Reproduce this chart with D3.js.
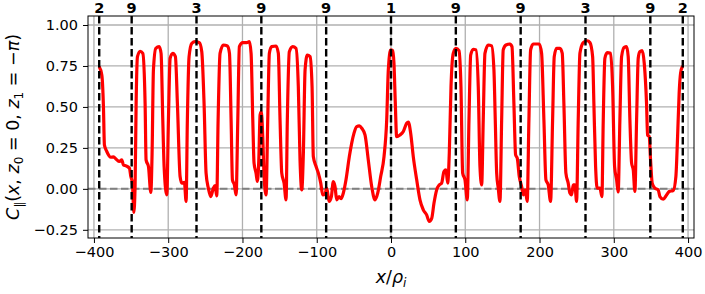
<!DOCTYPE html>
<html>
<head>
<meta charset="utf-8">
<script src="https://cdn.jsdelivr.net/npm/d3@7"></script>
<style>
	body { margin: 0; background: #fff; }
	svg { display: block; font-family: "DejaVu Sans", sans-serif; }
</style>
</head>
<body>
<svg id="chart" width="705" height="294"></svg>
<script>
/*=================
=== Data
=================*/

// x/rho_i and C_par pairs along the red curve
const curve = [
	[-393, 0.746], [-389.4, 0.695], [-387.2, 0.50], [-385.9, 0.268], [-382.7, 0.228],
	[-377.3, 0.193], [-373.7, 0.195], [-370, 0.181], [-365.7, 0.167], [-362.5, 0.177],
	[-360.3, 0.146], [-356.7, 0.14], [-352.2, 0.126], [-350.3, 0.075], [-348.2, 0.035],
	[-346.3, -0.144], [-344.6, 0.014], [-343.2, 0.52], [-341.4, 0.807], [-337.8, 0.84],
	[-334.2, 0.827], [-331.1, 0.52], [-329.8, 0.177], [-326.6, 0.136], [-323.4, -0.022],
	[-321.7, 0.218], [-319.9, 0.726], [-316.7, 0.858], [-312.2, 0.868], [-309.6, 0.827],
	[-307.3, 0.42], [-305.5, 0.136], [-301.9, -0.037], [-299.7, 0.42], [-297.4, 0.797],
	[-293.8, 0.827], [-290.3, 0.807], [-287.6, 0.52], [-284, 0.075], [-281.7, 0.035],
	[-278.2, 0.04], [-275.9, -0.077], [-274.2, 0.42], [-271.9, 0.807], [-268.2, 0.888],
	[-263.8, 0.898], [-258, 0.892], [-254.8, 0.837], [-251.7, 0.52], [-249, 0.096],
	[-245.9, 0.004], [-242.7, -0.047], [-239.2, 0.004], [-236.9, 0.02], [-234.6, -0.043],
	[-232.8, 0.42], [-230.2, 0.827], [-225.7, 0.878], [-220.3, 0.872], [-217.5, 0.827],
	[-215.3, 0.42], [-213.5, 0.055], [-210.9, 0.024], [-208.6, -0.037], [-206.3, 0.42],
	[-204.2, 0.868], [-199.6, 0.892], [-194.2, 0.892], [-190.7, 0.898], [-188.4, 0.827],
	[-186.1, 0.42], [-184.4, 0.157], [-181.7, 0.096], [-179.9, 0.045], [-178, 0.177],
	[-176.3, 0.451], [-174.6, 0.471], [-172.7, 0.319], [-170.9, 0.075], [-168.2, -0.037],
	[-166, 0.42], [-163.8, 0.827], [-160.6, 0.868], [-154.8, 0.872], [-151.7, 0.827],
	[-149.4, 0.42], [-147.1, 0.096], [-144, 0.035], [-141.3, -0.067], [-139.6, 0.42],
	[-136.9, 0.837], [-132.3, 0.868], [-127.9, 0.858], [-124.8, 0.624], [-122.5, 0.177],
	[-120.2, -0.006], [-118, 0.218], [-115.7, 0.726], [-112.7, 0.817], [-109, 0.807],
	[-106.3, 0.624], [-104.6, 0.197], [-100.9, 0.136], [-97.8, 0.096], [-94.6, 0.035],
	[-91.9, -0.037], [-88.8, -0.031], [-86.5, 0.004], [-83.4, -0.077], [-80.3, -0.047],
	[-77.7, 0.045], [-75.4, 0.014], [-73.1, -0.067], [-70, -0.047], [-67.3, -0.06],
	[-64.2, -0.026], [-60.6, 0.055], [-56.1, 0.197], [-52.9, 0.279], [-49.8, 0.34],
	[-46.2, 0.38], [-42.7, 0.384], [-39.4, 0.37], [-35, 0.329], [-30.6, 0.177],
	[-26, 0.014], [-21.5, -0.067], [-17.9, -0.026], [-13.9, 0.075], [-9.4, 0.197],
	[-5.8, 0.42], [-3.6, 0.726], [-0.4, 0.848], [2.3, 0.844], [4, 0.766],
	[5.8, 0.523], [7.6, 0.319], [12.1, 0.329], [16.6, 0.35], [21.1, 0.40],
	[23.3, 0.408], [26.5, 0.34], [30, 0.197], [34.6, 0.055], [39, -0.067],
	[43.5, -0.128], [48, -0.159], [51.5, -0.199], [54.8, -0.18], [57.9, -0.087],
	[61.5, -0.006], [65, 0.024], [68.2, 0.035], [71.3, 0.106], [74, 0.116],
	[76.3, 0.035], [78.5, 0.218], [80.8, 0.624], [83.8, 0.827], [87.5, 0.858],
	[91.5, 0.844], [94.2, 0.624], [96.5, 0.096], [99.6, 0.055], [102.7, -0.067],
	[105, 0.42], [107.3, 0.817], [110.8, 0.852], [114.4, 0.848], [117.5, 0.624],
	[119.8, 0.136], [122.1, 0.024], [124.2, 0.42], [126.5, 0.827], [131, 0.878],
	[135.5, 0.873], [138.6, 0.726], [140.4, 0.42], [142.3, 0.096], [144.4, 0.004],
	[146.7, -0.077], [149, 0.42], [151.1, 0.848], [154.8, 0.878], [160.2, 0.884],
	[162.9, 0.868], [165.5, 0.52], [167.8, 0.207], [170, 0.187], [172.7, 0.075],
	[175.9, 0.014], [178.1, -0.037], [180.8, -0.006], [183.4, -0.077], [185.7, 0.42],
	[188, 0.848], [191.5, 0.884], [196.1, 0.884], [199.6, 0.884], [202.8, 0.827],
	[205.9, 0.42], [208.6, 0.055], [211.7, 0.024], [214.9, -0.077], [217.6, 0.42],
	[219.8, 0.807], [223, 0.858], [227.5, 0.858], [230.6, 0.827], [232.8, 0.52],
	[235.5, 0.096], [238.6, 0.035], [240.9, -0.026], [243.2, -0.037], [245.4, 0.024],
	[247.6, 0.024], [249.9, -0.077], [252.1, 0.42], [254.4, 0.827], [258.9, 0.892],
	[264.2, 0.904], [267.8, 0.893], [271.5, 0.807], [273.2, 0.52], [275.5, 0.136],
	[277.6, 0.004], [281.3, 0.004], [284, -0.047], [285.8, 0.42], [288, 0.797],
	[291.2, 0.831], [295.7, 0.827], [298.4, 0.624], [301.1, 0.136], [303.8, 0.055],
	[305.9, -0.019], [308.2, 0.42], [310.5, 0.807], [314, 0.864], [317.2, 0.868],
	[319.4, 0.807], [321.7, 0.42], [324, 0.157], [326.2, 0.116], [328.4, -0.016],
	[330.7, 0.42], [332.9, 0.797], [335.1, 0.837], [338.3, 0.844], [341, 0.766],
	[344.1, 0.52], [345.5, 0.329], [347.7, 0.319], [349.5, 0.177], [351.7, 0.035],
	[355.3, 0.004], [359.8, -0.006], [362.1, -0.047], [366.6, -0.063], [371.1, -0.037],
	[374.6, -0.016], [380, -0.01], [383.6, 0.075], [385.9, 0.319], [388, 0.583],
	[389.9, 0.705], [392.6, 0.75]
];

// dashed marker lines and their labels on top
const markerX = [-392.9, -349.2, -261.9, -174.6, -87.3, 0, 87.3, 174.6, 261.9, 349.2, 392.9];
const markerLabels = ['2', '9', '3', '9', '9', '1', '9', '9', '3', '9', '2'];

const xTicks = [-400, -300, -200, -100, 0, 100, 200, 300, 400];
const yTicks = [-0.25, 0, 0.25, 0.5, 0.75, 1.0];

/*=================
=== Setting our svg
=================*/
const margin = { top: 16, bottom: 56, left: 88, right: 11 };
const svg = d3.select('#chart');
const width = +svg.attr('width') - margin.left - margin.right;
const height = +svg.attr('height') - margin.top - margin.bottom;

const xScale = d3.scaleLinear().domain([-408, 408]).range([0, width]);
const yScale = d3.scaleLinear().domain([-0.30, 1.055]).range([height, 0]);

const g = svg.append('g')
	.attr('transform', `translate(${margin.left}, ${margin.top})`);

const minus = s => s.replace('-', '\u2212');

// grid
g.append('g').selectAll('line')
	.data(xTicks)
	.enter().append('line')
	.attr('x1', d => xScale(d)).attr('x2', d => xScale(d))
	.attr('y1', 0).attr('y2', height)
	.attr('stroke', '#b0b0b0').attr('stroke-width', 1.3);

g.append('g').selectAll('line')
	.data(yTicks)
	.enter().append('line')
	.attr('x1', 0).attr('x2', width)
	.attr('y1', d => yScale(d)).attr('y2', d => yScale(d))
	.attr('stroke', '#b0b0b0').attr('stroke-width', 1.3);

// zero line
g.append('line')
	.attr('x1', 0).attr('x2', width)
	.attr('y1', yScale(0)).attr('y2', yScale(0))
	.attr('stroke', '#808080').attr('stroke-width', 2)
	.attr('stroke-dasharray', '7.5,3.5');

// the red curve
const line = d3.line()
	.x(d => xScale(d[0]))
	.y(d => yScale(d[1]))
	.curve(d3.curveMonotoneX);

g.append('path')
	.datum(curve)
	.attr('d', line)
	.attr('fill', 'none')
	.attr('stroke', '#ff0000')
	.attr('stroke-width', 3.2)
	.attr('stroke-linejoin', 'round');

// black dashed markers
g.append('g').selectAll('line')
	.data(markerX)
	.enter().append('line')
	.attr('x1', d => xScale(d)).attr('x2', d => xScale(d))
	.attr('y1', 0).attr('y2', height)
	.attr('stroke', '#000').attr('stroke-width', 2.4)
	.attr('stroke-dasharray', '7.5,3.5');

g.append('g').selectAll('text')
	.data(markerX)
	.enter().append('text')
	.attr('x', d => xScale(d))
	.attr('y', -3)
	.attr('text-anchor', 'middle')
	.attr('font-size', 14.5)
	.attr('font-weight', 'bold')
	.text((d, i) => markerLabels[i]);

// axes
const xAxis = g.append('g')
	.attr('transform', `translate(0, ${height})`)
	.call(d3.axisBottom(xScale).tickValues(xTicks).tickSize(5).tickPadding(4)
		.tickFormat(d => minus(String(d))));

const yAxis = g.append('g')
	.call(d3.axisLeft(yScale).tickValues(yTicks).tickSize(5).tickPadding(5)
		.tickFormat(d => minus(d3.format('.2f')(d))));

[xAxis, yAxis].forEach(a => {
	a.select('.domain').remove();
	a.selectAll('text').attr('font-size', 14.5).attr('font-family', 'DejaVu Sans').attr('fill', '#000');
	a.selectAll('line').attr('stroke', '#000').attr('stroke-width', 1);
});

// frame
g.append('rect')
	.attr('width', width).attr('height', height)
	.attr('fill', 'none').attr('stroke', '#000').attr('stroke-width', 1);

// axis labels
svg.append('text')
	.attr('x', margin.left + xScale(0))
	.attr('y', 283)
	.attr('text-anchor', 'middle')
	.attr('font-size', 17.5)
	.html('<tspan font-style="italic">x</tspan>/<tspan font-style="italic">ρ</tspan><tspan font-style="italic" font-size="12" dy="4">i</tspan>');

svg.append('text')
	.attr('transform', `translate(19, ${margin.top + height / 2}) rotate(-90)`)
	.attr('text-anchor', 'middle')
	.attr('font-size', 17.5)
	.html('<tspan font-style="italic">C</tspan><tspan font-size="12" dy="4">∥</tspan>' +
		'<tspan dy="-4">(</tspan><tspan font-style="italic">x</tspan>, <tspan font-style="italic">z</tspan>' +
		'<tspan font-size="12" dy="4">0</tspan><tspan dy="-4"> = 0, </tspan><tspan font-style="italic">z</tspan>' +
		'<tspan font-size="12" dy="4">1</tspan><tspan dy="-4"> = −</tspan><tspan font-style="italic">π</tspan>)');
</script>
</body>
</html>
